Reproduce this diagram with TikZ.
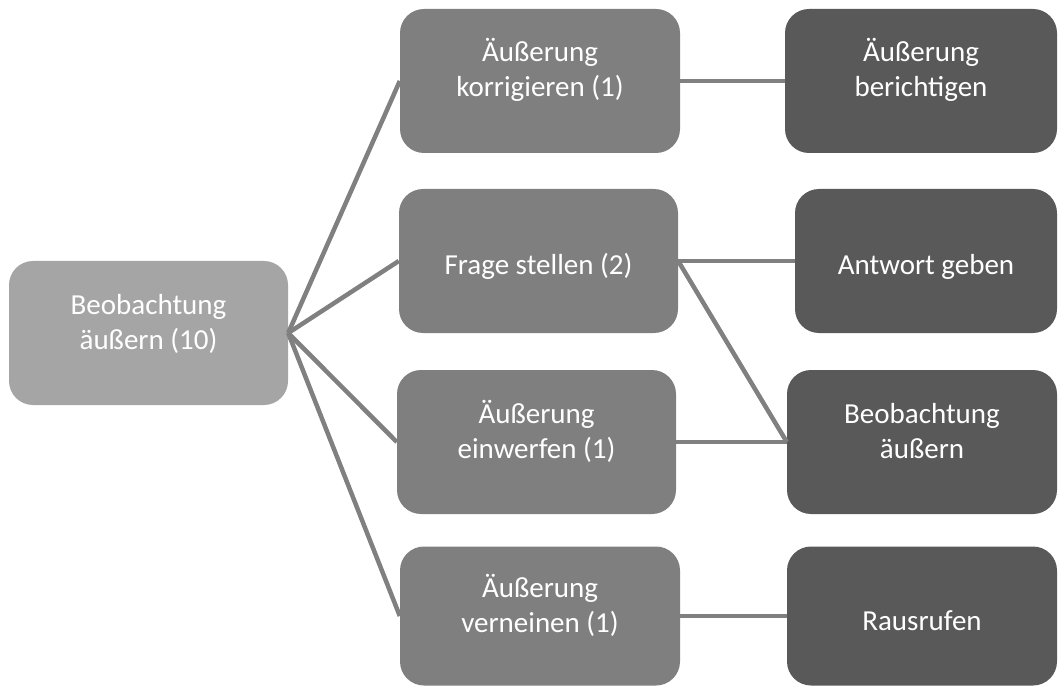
\documentclass[tikz,border=0pt]{standalone}
\usepackage{fontspec}
\setmainfont{Carlito}
\usepackage{tikz}
\definecolor{rootgray}{HTML}{A5A5A5}
\definecolor{midgray}{HTML}{7F7F7F}
\definecolor{leafgray}{HTML}{595959}
\definecolor{linkgray}{HTML}{808080}

\begin{document}
\begin{tikzpicture}[x=1pt, y=-1pt,
  every node/.style={font=\fontsize{29}{35}\selectfont, text=white, align=center,
    rounded corners=24pt, minimum height=144pt},
  oneline/.style={text height=28pt, text depth=0pt},
  twoline/.style={text height=39pt, text depth=7pt},
  link/.style={line width=4.5pt, linkgray}]
  \useasboundingbox (0,0) rectangle (1058,687);

  % root
  \node[fill=rootgray, minimum width=279pt, twoline] (obs) at (148.5,333) {Beobachtung\\äußern (10)};

  % middle column
  \node[fill=midgray, minimum width=280pt, twoline] (korr) at (540,81) {Äußerung\\korrigieren (1)};
  \node[fill=midgray, minimum width=279pt, oneline] (frage) at (538.5,261) {Frage stellen (2)};
  \node[fill=midgray, minimum width=279pt, twoline] (einw) at (536.5,442) {Äußerung\\einwerfen (1)};
  \node[fill=midgray, minimum width=280pt, minimum height=139pt, twoline] (vern) at (540,616) {Äußerung\\verneinen (1)};

  % right column
  \node[fill=leafgray, minimum width=272pt, twoline] (bericht) at (921,81) {Äußerung\\berichtigen};
  \node[fill=leafgray, minimum width=262pt, oneline] (antw) at (926,261) {Antwort geben};
  \node[fill=leafgray, minimum width=270pt, twoline] (beob) at (922,442) {Beobachtung\\äußern};
  \node[fill=leafgray, minimum width=270pt, minimum height=139pt, oneline] (raus) at (922,616) {Rausrufen};

  \foreach \m in {korr, frage, einw, vern}
    \draw[link] (obs.east) -- (\m.west);
  \draw[link] (korr.east) -- (bericht.west);
  \draw[link] (frage.east) -- (antw.west);
  \draw[link] (frage.east) -- (beob.west);
  \draw[link] (einw.east) -- (beob.west);
  \draw[link] (vern.east) -- (raus.west);
\end{tikzpicture}
\end{document}
